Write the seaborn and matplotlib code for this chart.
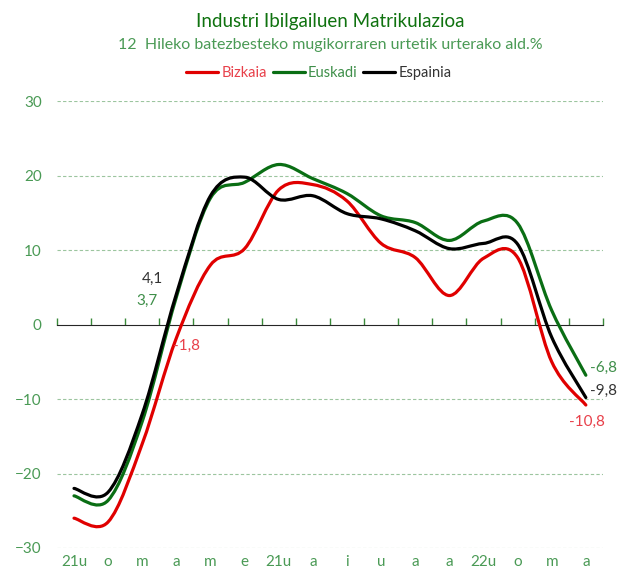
import numpy as np
import pandas as pd
import matplotlib
matplotlib.use("Agg")
import matplotlib.pyplot as plt
from matplotlib.path import Path
from matplotlib.patches import PathPatch
from matplotlib.lines import Line2D
import seaborn as sns

# Data
months = ["21u", "o", "m", "a", "m", "e", "21u", "a", "i", "u", "a", "a", "22u", "o", "m", "a"]
bizkaia = [-26.0, -26.5, -16.0, -1.8, 8.0, 10.2, 18.1, 18.8, 16.6, 10.9, 9.0, 3.9, 8.9, 9.0, -5.0, -10.8]
euskadi = [-23.0, -23.6, -13.0, 3.7, 17.0, 19.1, 21.5, 19.6, 17.6, 14.6, 13.7, 11.3, 13.9, 13.6, 1.9, -6.8]
espainia = [-22.0, -22.5, -12.0, 4.1, 17.3, 19.8, 16.8, 17.3, 14.9, 14.2, 12.6, 10.2, 10.9, 10.8, -1.7, -9.8]
series_names = ["Bizkaia", "Euskadi", "Espainia"]

line_colors = {"Bizkaia": "#e00000", "Euskadi": "#0a6e14", "Espainia": "#000000"}
text_colors = {"Bizkaia": "#e8404a", "Euskadi": "#3f8f4a", "Espainia": "#333333"}
axis_green = "#4a9a55"


def smooth_path(xs, ys):
    """Bezier path through the points (Excel-like smoothed line)."""
    pts = np.column_stack([xs, ys])
    n = len(pts)
    verts = [pts[0]]
    codes = [Path.MOVETO]
    for i in range(n - 1):
        p0 = pts[i - 1] if i > 0 else pts[i]
        p1 = pts[i]
        p2 = pts[i + 1]
        p3 = pts[i + 2] if i + 2 < n else pts[i + 1]
        verts += [p1 + (p2 - p0) / 6, p2 - (p3 - p1) / 6, p2]
        codes += [Path.CURVE4] * 3
    return Path(verts, codes)


df = pd.DataFrame({"pos": np.arange(len(months)),
                   "Bizkaia": bizkaia, "Euskadi": euskadi, "Espainia": espainia})
long_df = df.melt(id_vars="pos", var_name="series", value_name="value")

sns.set_style("white")
plt.rcParams["font.family"] = ["Lato", "DejaVu Sans"]

fig = plt.figure(figsize=(6.19, 5.75), dpi=100)
ax = fig.add_axes([0.092, 0.047, 0.882, 0.777])

sns.lineplot(data=long_df, x="pos", y="value", hue="series", palette=line_colors,
             ax=ax, legend=False)

# replace the straight segments by smoothed curves
for line in list(ax.lines):
    x, y = line.get_data()
    color = line.get_color()
    line.remove()
    ax.add_patch(PathPatch(smooth_path(np.asarray(x, float), np.asarray(y, float)),
                           facecolor="none", edgecolor=color, lw=2.3,
                           capstyle="round", joinstyle="round", zorder=3))

ax.set_xlim(-0.5, len(months) - 0.5)
ax.set_ylim(-30, 30)

# gridlines
for v in [30, 20, 10, -10, -20, -30]:
    ax.axhline(v, color="#9cc59f", lw=0.8, ls=(0, (3, 2)), zorder=1)

for s in ax.spines.values():
    s.set_visible(False)

ax.set_yticks([-30, -20, -10, 0, 10, 20, 30])
ax.tick_params(axis="y", length=0, pad=11, labelsize=11, labelcolor=axis_green)
ax.set_xticks(np.arange(len(months)))
ax.set_xticklabels(months)
ax.tick_params(axis="x", length=0, pad=5, labelsize=11, labelcolor=axis_green)
ax.set_xlabel("")
ax.set_ylabel("")

# zero axis with ticks between categories
zero_ax = ax.secondary_xaxis(0.5)
zero_ax.spines["bottom"].set_color("#3a8a3a")
zero_ax.spines["bottom"].set_linewidth(1.4)
zero_ax.set_xticks(np.arange(-0.5, len(months), 1.0))
zero_ax.tick_params(axis="x", length=5, width=1, color="#3a8a3a", labelbottom=False)
zero_ax.set_xticklabels([])

# data labels
def label(idx, name, vals, dx, dy, ha):
    ax.annotate(f"{vals[idx]:.1f}".replace(".", ","), (idx, vals[idx]),
                xytext=(dx, dy), textcoords="offset points", ha=ha, va="center",
                color=text_colors[name], fontsize=11)

label(3, "Espainia", espainia, -17, 11, "center")
label(3, "Euskadi", euskadi, -21, -3, "center")
label(3, "Bizkaia", bizkaia, 7, -6, "center")
label(15, "Euskadi", euskadi, 3, 5, "left")
label(15, "Espainia", espainia, 3, 5, "left")
label(15, "Bizkaia", bizkaia, 1, -12, "center")

# title, subtitle, legend
cx = 0.533
fig.text(cx, 0.962, "Industri Ibilgailuen Matrikulazioa", ha="center", va="center",
         fontsize=13.5, color="#0f720f")
fig.text(cx, 0.922, "12  Hileko batezbesteko mugikorraren urtetik urterako ald.%",
         ha="center", va="center", fontsize=11.5, color="#4a9a55")

handles = [Line2D([0], [0], color=line_colors[n], lw=2.3) for n in series_names]
leg = fig.legend(handles, series_names, loc="center", bbox_to_anchor=(0.515, 0.873),
                 ncol=3, frameon=False, fontsize=10.5, handlelength=2.2,
                 handletextpad=0.2, columnspacing=0.4)
for txt, n in zip(leg.get_texts(), series_names):
    txt.set_color(text_colors[n])

fig.savefig("out.png", dpi=100)
